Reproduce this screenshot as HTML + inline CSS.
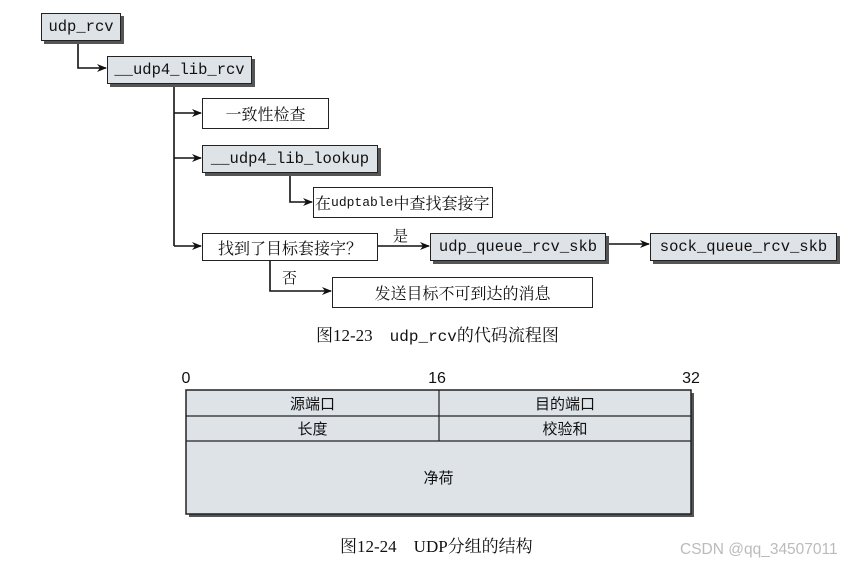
<!DOCTYPE html>
<html><head><meta charset="utf-8"><style>
body{margin:0;width:853px;height:566px;background:#fff;position:relative;overflow:hidden;font-family:"Liberation Serif","Noto Serif CJK SC",serif;}
.b{position:absolute;box-sizing:border-box;border:1.5px solid #222;background:#dde3e7;font-family:"Liberation Mono","Noto Sans CJK SC",monospace;font-size:15.5px;display:flex;align-items:center;justify-content:center;box-shadow:3px 3px 0 #555;color:#111;white-space:nowrap}
.w{background:#fff;box-shadow:none;font-family:"Liberation Serif","Noto Serif CJK SC",serif;border-width:1px;font-size:16px}
.t{position:absolute;font-size:15px;color:#111;white-space:nowrap}
svg{position:absolute;left:0;top:0}
.c{position:absolute;font-family:"Liberation Sans","Noto Sans CJK SC",sans-serif;font-size:15px;display:flex;align-items:center;justify-content:center;box-sizing:border-box;color:#111}
</style></head><body>
<svg width="853" height="566">
<defs><marker id="a" markerWidth="10" markerHeight="8" refX="9" refY="4" orient="auto" markerUnits="userSpaceOnUse"><path d="M0,0 L10,4 L0,8 L3,4z" fill="#111"/></marker></defs>
<g stroke="#111" stroke-width="1.6" fill="none">
<path d="M78 40 V68 H106" marker-end="url(#a)"/>
<path d="M174 83 V246"/>
<path d="M174 113 H201" marker-end="url(#a)"/>
<path d="M174 158 H201" marker-end="url(#a)"/>
<path d="M174 246 H201" marker-end="url(#a)"/>
<path d="M290 172 V202 H312" marker-end="url(#a)"/>
<path d="M378 246 H429" marker-end="url(#a)"/>
<path d="M606 244 H649" marker-end="url(#a)"/>
<path d="M270 260 V291 H331" marker-end="url(#a)"/>
</g>
<rect x="189" y="393" width="505" height="124" fill="#555"/>
<rect x="186" y="390" width="505" height="124" fill="#dde3e7" stroke="#222" stroke-width="1.5"/>
<g stroke="#222" stroke-width="1.2"><path d="M186 416 H691 M186 441 H691 M439 390 V441"/></g>
</svg>
<div class="b" style="left:41px;top:13px;width:80px;height:28px">udp_rcv</div>
<div class="b" style="left:107px;top:56px;width:145px;height:28px">__udp4_lib_rcv</div>
<div class="b w" style="left:202px;top:98px;width:127px;height:31px">一致性检查</div>
<div class="b" style="left:202px;top:145px;width:176px;height:28px">__udp4_lib_lookup</div>
<div class="b w" style="left:313px;top:187px;width:180px;height:31px;justify-content:flex-start;padding-left:1px">在<span style="font-family:'Liberation Mono',monospace;font-size:13px">udptable</span>中查找套接字</div>
<div class="b w" style="left:202px;top:233px;width:176px;height:28px">找到了目标套接字？</div>
<div class="b" style="left:430px;top:233px;width:176px;height:28px">udp_queue_rcv_skb</div>
<div class="b" style="left:650px;top:233px;width:187px;height:28px">sock_queue_rcv_skb</div>
<div class="b w" style="left:332px;top:277px;width:261px;height:31px">发送目标不可到达的消息</div>
<div class="t" style="left:393px;top:225px;font-size:15px">是</div>
<div class="t" style="left:282px;top:267px;font-size:15px">否</div>
<div class="t" style="left:316px;top:321px;font-size:17px">图12-23　<span style="font-family:'Liberation Mono',monospace;font-size:16px">udp_rcv</span>的代码流程图</div>
<div class="c" style="left:179px;top:370px;width:14px;height:18px;font-size:16px">0</div>
<div class="c" style="left:426px;top:370px;width:22px;height:18px;font-size:16px">16</div>
<div class="c" style="left:680px;top:370px;width:22px;height:18px;font-size:16px">32</div>
<div class="c" style="left:186px;top:390px;width:253px;height:26px">源端口</div>
<div class="c" style="left:439px;top:390px;width:252px;height:26px">目的端口</div>
<div class="c" style="left:186px;top:416px;width:253px;height:25px">长度</div>
<div class="c" style="left:439px;top:416px;width:252px;height:25px">校验和</div>
<div class="c" style="left:186px;top:441px;width:505px;height:73px">净荷</div>
<div class="t" style="left:340px;top:532px;font-size:17px">图12-24　UDP分组的结构</div>
<div class="t" style="left:680px;top:541px;font-family:'Liberation Sans',sans-serif;font-size:15.5px;color:#bbb">CSDN @qq_34507011</div>
</body></html>
